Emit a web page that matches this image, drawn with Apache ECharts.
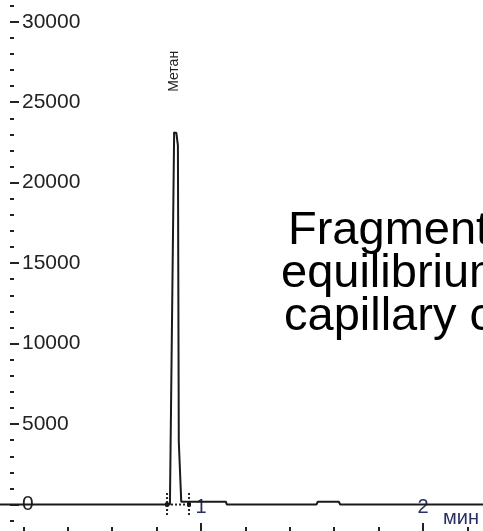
<!DOCTYPE html>
<html>
<head>
<meta charset="utf-8">
<script src="https://cdn.jsdelivr.net/npm/echarts@6/dist/echarts.min.js"></script>
<style>
html,body{margin:0;padding:0;background:#fff;}
#chart{width:483px;height:531px;}
</style>
</head>
<body>
<div id="chart"></div>
<script>
// Chromatogram trace: retention time (min) and detector signal
const timeMin = [0.0, 0.860, 0.865, 0.879, 0.889, 0.896, 0.900, 0.909, 0.911, 1.112, 1.116, 1.520, 1.526, 1.621, 1.627, 3.0];
const signal  = [0,   0,     0,     23100, 23100, 22300, 3900,  3850,  180,   180,   0,     0,     170,   170,   0,     0];
const peakName = 'Метан';
const peakIndex = 3;
// Integration marks (peak start / end)
const integStart = 0.847;
const integEnd = 0.946;
const integMarkHeight = [715, -715];
// Axes
const yRange = [-5000, 35000];
const yStep = 5000;
const xRange = [0, 3];
const xStep = 1;
const xUnit = 'мин';
const noteLines = ['Fragment of the chromatogram', 'equilibrium vapour phase', 'capillary column'];
const noteLeft = [288, 281, 284];

const traceData = timeMin.map((t, i) => {
  if (i === peakIndex) {
    return {
      value: [t, signal[i]],
      symbol: 'circle', symbolSize: 2,
      label: {
        show: true, formatter: peakName, rotate: 90, position: 'top', distance: 40,
        align: 'left', verticalAlign: 'middle',
        fontFamily: 'Liberation Sans, Arial, sans-serif', fontSize: 14, color: '#222'
      }
    };
  }
  return [t, signal[i]];
});

const chart = echarts.init(document.getElementById('chart'), null, {renderer: 'canvas'});
const axisFont = 'Liberation Sans, Arial, sans-serif';
chart.setOption({
  animation: false,
  backgroundColor: '#fff',
  title: noteLines.map((line, i) => ({
    text: line,
    left: noteLeft[i], top: 209 + i * 43, padding: 0,
    textStyle: {fontFamily: axisFont, fontSize: 47, lineHeight: 44, fontWeight: 'normal', color: '#000'}
  })),
  grid: {left: -21, right: -162, top: -58.7, bottom: -54, containLabel: false, outerBoundsMode: 'none'},
  xAxis: {
    type: 'value', min: xRange[0], max: xRange[1], interval: xStep,
    position: 'bottom', offset: -54,
    name: xUnit, nameLocation: 'end', nameGap: -202,
    nameTextStyle: {fontFamily: axisFont, fontSize: 20, lineHeight: 20, color: '#283060',
      verticalAlign: 'bottom', align: 'left', padding: [0, 0, 3, 0]},
    axisLine: {show: false, onZero: false},
    axisTick: {show: true, inside: true, length: 8, lineStyle: {color: '#222', width: 2}},
    minorTick: {show: true, splitNumber: 5, length: 4, lineStyle: {color: '#222', width: 2}},
    axisLabel: {inside: true, margin: 14, fontFamily: axisFont, fontSize: 20, color: '#283060',
      formatter: v => String(v)},
    splitLine: {show: false}
  },
  yAxis: {
    type: 'value', min: yRange[0], max: yRange[1], interval: yStep,
    position: 'left', offset: -31,
    axisLine: {show: false, onZero: false},
    axisTick: {show: true, inside: true, length: 9, lineStyle: {color: '#222', width: 2}},
    minorTick: {show: true, splitNumber: 5, length: 4, lineStyle: {color: '#222', width: 2}},
    axisLabel: {inside: true, margin: 12, fontFamily: axisFont, fontSize: 21, color: '#222',
      formatter: v => String(v)},
    splitLine: {show: false}
  },
  series: [
    {
      type: 'line', name: 'integration',
      data: [[integStart, 0], [integEnd, 0]],
      showSymbol: true, symbol: 'rect', symbolSize: [4, 4],
      itemStyle: {color: '#111'},
      lineStyle: {color: '#222', width: 2, type: 'dotted'},
      z: 1, silent: true
    },
    {
      type: 'line', name: 'start',
      data: [[integStart, integMarkHeight[0]], [integStart, integMarkHeight[1]]],
      showSymbol: false, lineStyle: {color: '#222', width: 2, type: 'dotted'}, silent: true
    },
    {
      type: 'line', name: 'end',
      data: [[integEnd, integMarkHeight[0]], [integEnd, integMarkHeight[1]]],
      showSymbol: false, lineStyle: {color: '#222', width: 2, type: 'dotted'}, silent: true
    },
    {
      type: 'line', name: 'signal',
      data: traceData,
      showSymbol: true, symbol: 'none',
      itemStyle: {color: '#1a1a1a'},
      lineStyle: {color: '#1a1a1a', width: 2},
      z: 3, silent: true
    }
  ]
});
</script>
</body>
</html>
